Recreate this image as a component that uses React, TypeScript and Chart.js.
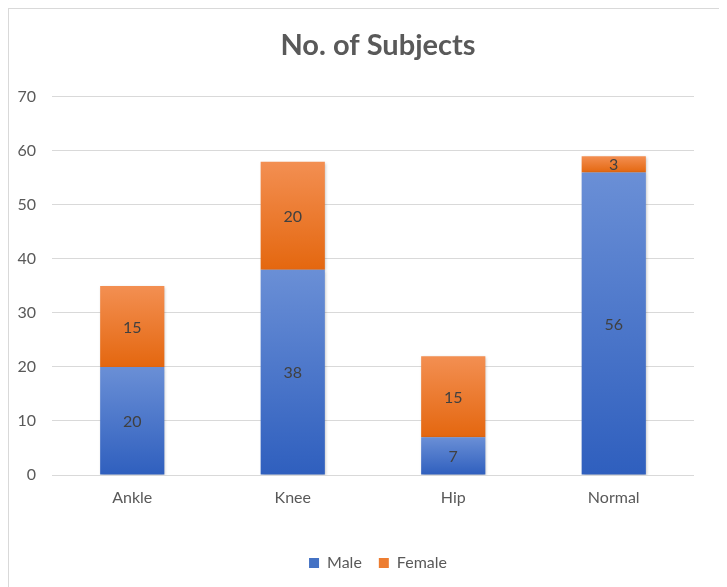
import React, { useEffect, useRef } from "react";
import { Chart, registerables } from "chart.js";

Chart.register(...registerables);

const categories = ["Ankle", "Knee", "Hip", "Normal"];
const maleValues = [20, 38, 7, 56];
const femaleValues = [15, 20, 15, 3];
const yTicks = [0, 10, 20, 30, 40, 50, 60, 70];

const FONT = "Lato, 'Open Sans', sans-serif";

const gradients: Record<string, [string, string, string]> = {
  Male: ["#4472C4", "#6a8fd6", "#2f5fbe"],
  Female: ["#ED7D31", "#f38f52", "#e4670f"],
};

function gradientColor(name: string) {
  return (ctx: any) => {
    const [solid, light, dark] = gradients[name];
    if (ctx.type !== "data") return solid;
    const chart = ctx.chart;
    const y = chart.scales && chart.scales.y;
    if (!chart.chartArea || !y) return solid;
    const i = ctx.dataIndex;
    const d = ctx.datasetIndex;
    let base = 0;
    for (let k = 0; k < d; k++) base += chart.data.datasets[k].data[i] as number;
    const top = base + (chart.data.datasets[d].data[i] as number);
    const y0 = y.getPixelForValue(base);
    const y1 = y.getPixelForValue(top);
    if (!isFinite(y0) || !isFinite(y1) || y0 === y1) return solid;
    const g = chart.ctx.createLinearGradient(0, y1, 0, y0);
    g.addColorStop(0, light);
    g.addColorStop(1, dark);
    return g;
  };
}

const shadowPlugin = {
  id: "barShadow",
  beforeDatasetsDraw(chart: any) {
    const c = chart.ctx;
    c.save();
    c.shadowColor = "rgba(0,0,0,0.25)";
    c.shadowBlur = 3;
    c.shadowOffsetX = 1;
    c.shadowOffsetY = 1;
  },
  afterDatasetsDraw(chart: any) {
    chart.ctx.restore();
  },
};

const labelPlugin = {
  id: "segLabels",
  afterDatasetsDraw(chart: any) {
    const c = chart.ctx;
    c.save();
    c.fillStyle = "#404040";
    c.font = `16px ${FONT}`;
    c.textAlign = "center";
    c.textBaseline = "middle";
    chart.data.datasets.forEach((ds: any, di: number) => {
      const meta = chart.getDatasetMeta(di);
      meta.data.forEach((el: any, i: number) => {
        const v = ds.data[i];
        const cy = (el.y + el.base) / 2;
        c.fillText(String(v), el.x, cy + 1);
      });
    });
    c.restore();
  },
};

export default function App() {
  const ref = useRef<HTMLCanvasElement>(null);
  useEffect(() => {
    if (!ref.current) return;
    const chart = new Chart(ref.current, {
      type: "bar",
      data: {
        labels: categories,
        datasets: [
          { label: "Male", data: maleValues, backgroundColor: gradientColor("Male"), categoryPercentage: 1, barPercentage: 0.4 },
          { label: "Female", data: femaleValues, backgroundColor: gradientColor("Female"), categoryPercentage: 1, barPercentage: 0.4 },
        ],
      },
      options: {
        animation: false,
        responsive: true,
        maintainAspectRatio: false,
        layout: { padding: { left: 0, right: 0, top: 0, bottom: 6 } },
        plugins: {
          title: {
            display: true,
            text: "No. of Subjects",
            color: "#595959",
            font: { family: FONT, size: 29, weight: "bold" },
            padding: { top: 19, bottom: 34 },
          },
          legend: {
            position: "bottom",
            labels: {
              color: "#595959",
              font: { family: FONT, size: 16 },
              boxWidth: 10,
              boxHeight: 10,
              padding: 17,
              generateLabels: (chart: any) =>
                chart.data.datasets.map((ds: any, i: number) => ({
                  text: ds.label,
                  fillStyle: gradients[ds.label][0],
                  strokeStyle: gradients[ds.label][0],
                  fontColor: "#595959",
                  lineWidth: 0,
                  hidden: false,
                  datasetIndex: i,
                })),
            },
          },
          tooltip: { enabled: false },
        },
        scales: {
          x: {
            stacked: true,
            grid: { display: false },
            border: { display: false },
            ticks: { color: "#595959", font: { family: FONT, size: 16 }, padding: 5 },
            afterFit: (s: any) => { s.height = 63; },
          },
          y: {
            stacked: true,
            min: 0,
            max: 70,
            afterBuildTicks: (s: any) => { s.ticks = yTicks.map((v) => ({ value: v })); },
            grid: { color: "#d9d9d9", lineWidth: 1, drawTicks: false },
            border: { display: false },
            ticks: { color: "#595959", font: { family: FONT, size: 16 }, padding: 16 },
            afterFit: (s: any) => { s.width = 43; },
          },
          yRight: {
            type: "linear",
            position: "right",
            display: true,
            grid: { display: false, drawTicks: false },
            border: { display: false },
            ticks: { display: false },
            afterFit: (s: any) => { s.width = 53; },
          },
        },
      },
      plugins: [shadowPlugin, labelPlugin],
    });
    return () => chart.destroy();
  }, []);
  return (
    <div style={{ width: 719, height: 579, overflow: "hidden", borderTop: "1px solid #d9d9d9", borderLeft: "1px solid #d9d9d9", boxSizing: "border-box" }}>
      <div style={{ position: "relative", width: 738, height: 578 }}>
        <canvas ref={ref} />
      </div>
    </div>
  );
}
